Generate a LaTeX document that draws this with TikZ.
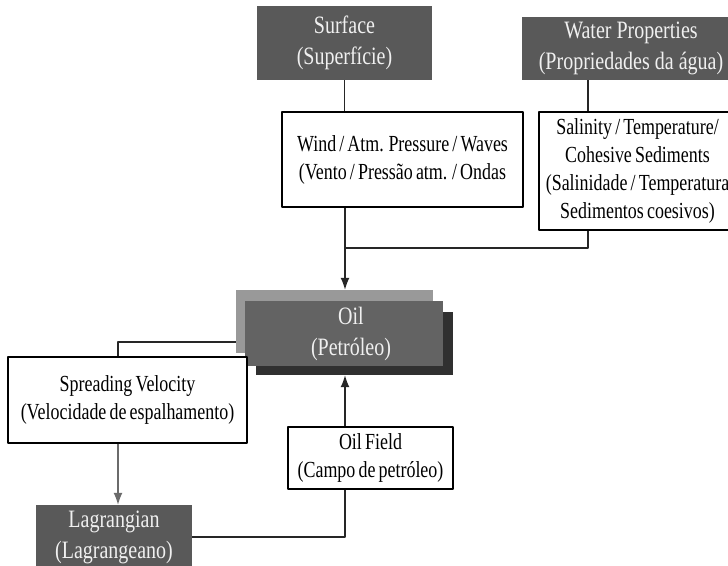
\documentclass[tikz,border=0pt]{standalone}
\usepackage{fontspec}
\newfontfamily\boxfont{Liberation Serif}[FakeStretch=0.8]
\newfontfamily\labelfont{Liberation Serif}[FakeStretch=0.78,WordSpace=0.7]
\usepackage{tikz}
\usetikzlibrary{shapes}
\usetikzlibrary{arrows.meta}
\definecolor{darkfill}{rgb}{0.35,0.35,0.35}
\definecolor{oilfill}{rgb}{0.39,0.39,0.39}
\definecolor{oilback}{rgb}{0.60,0.60,0.60}
\definecolor{oilshade}{rgb}{0.19,0.19,0.19}
\definecolor{boxtext}{rgb}{0.94,0.94,0.94}
\definecolor{linegray}{rgb}{0.42,0.42,0.42}

\tikzset{
  darkbox/.style={fill=darkfill,text=boxtext,align=center,inner sep=0pt,
    font=\boxfont\fontsize{25bp}{31bp}\selectfont},
  whitebox/.style={draw=black,line width=1.3bp,fill=white,align=center,inner sep=0pt,
    font=\labelfont\fontsize{23bp}{28bp}\selectfont},
  link/.style={draw=black!85,line width=1.3bp},
}

\begin{document}
\begin{tikzpicture}[>={Latex[length=12bp,width=9bp]},line join=bevel]
%%
  \useasboundingbox (0bp,0bp) rectangle (728bp,566bp);
  \node (surf) at (344.5bp,523bp) [darkbox,minimum width=175bp,minimum height=74bp] {Surface\\(Superfície)};
  \node (water) at (631bp,517.5bp) [darkbox,minimum width=218bp,minimum height=63bp] {Water Properties\\(Propriedades da água)};
  \node (wind) at (402.5bp,406.5bp) [whitebox,minimum width=241bp,minimum height=95bp] {Wind / Atm. Pressure / Waves\\(Vento / Pressão atm. / Ondas};
  \node (sal) at (637.5bp,395bp) [whitebox,minimum width=197bp,minimum height=118bp] {Salinity / Temperature/\\Cohesive Sediments\\(Salinidade / Temperatura\\Sedimentos coesivos)};
  \node (oilb) at (334.5bp,244.5bp) [fill=oilback,minimum width=197bp,minimum height=63bp] {};
  \node (oils) at (354.5bp,222.5bp) [fill=oilshade,minimum width=197bp,minimum height=63bp] {};
  \node (oil) at (344bp,232.5bp) [darkbox,fill=oilfill,minimum width=198bp,minimum height=65bp] {\hspace*{14bp}Oil\\\hspace*{14bp}(Petróleo)};
  \node (spread) at (127.5bp,166bp) [whitebox,minimum width=239bp,minimum height=86bp] {Spreading Velocity\\(Velocidade de espalhamento)};
  \node (field) at (370.5bp,108bp) [whitebox,minimum width=165bp,minimum height=62bp] {Oil Field\\(Campo de petróleo)};
  \node (lag) at (114bp,29bp) [darkbox,minimum width=156bp,minimum height=64bp] {Lagrangian\\(Lagrangeano)};
  \coordinate (join) at (345bp,318bp);
  % forcing from above
  \draw [link] (surf.south) -- (surf.south |- wind.north);
  \draw [link] ([xshift=-43bp]water.south) -- ([xshift=-43bp]water.south |- sal.north);
  \draw [link] ([xshift=-43bp]water.south |- sal.south) |- (join);
  \draw [link,->] (join |- wind.south) -- (join |- oilb.north);
  % spreading loop
  \draw [link] ([yshift=-20.5bp]oilb.west) -| ([xshift=-9.5bp]spread.north);
  \draw [link,draw=linegray,->] ([xshift=-9.5bp]spread.south) -- ([xshift=-9.5bp]spread.south |- lag.north);
  \draw [link] (lag.east) -| ([xshift=-25.5bp]field.south);
  \draw [link,->] ([xshift=-25.5bp]field.north) -- ([xshift=-25.5bp]field.north |- oils.south);
%
\end{tikzpicture}
\end{document}
